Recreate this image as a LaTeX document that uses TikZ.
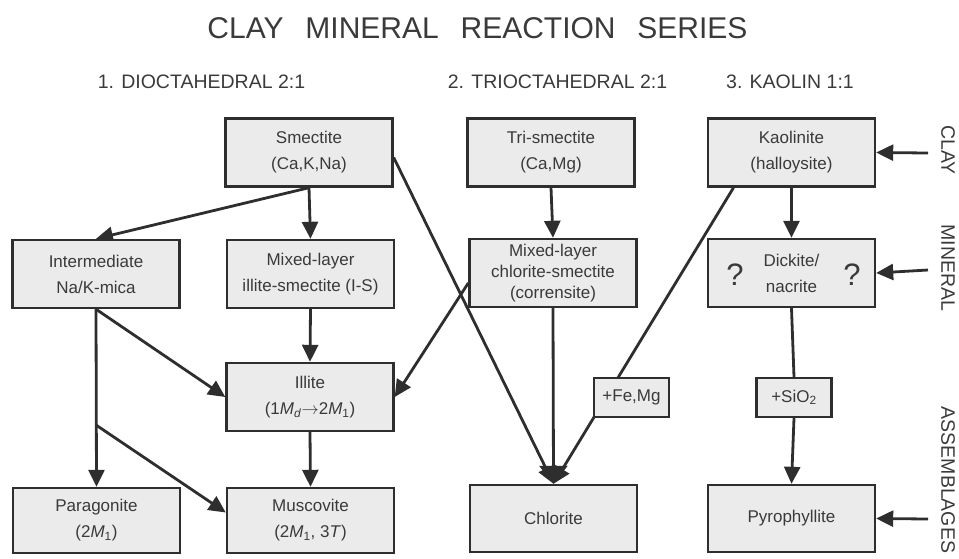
\documentclass[tikz,border=0pt]{standalone}
\usepackage{fontspec}
\setmainfont{Liberation Sans}
\usetikzlibrary{arrows.meta,backgrounds}
\definecolor{ink}{HTML}{2E2E2E}
\definecolor{txt}{HTML}{3A3A3A}
\definecolor{boxfill}{HTML}{EBEBEB}
\begin{document}
\begin{tikzpicture}[x=1pt,y=-1pt,
  box/.style={draw=ink,fill=boxfill,line width=2.4pt,minimum width=167pt,minimum height=68pt,
    inner sep=0pt,align=center,text=txt,font=\fontsize{17}{26}\selectfont},
  smallbox/.style={box,minimum width=75pt,minimum height=39pt},
  conn/.style={draw=ink,line width=2.8pt},
  arr/.style={conn,-{Triangle[length=17pt,width=16pt]}},
  bigarr/.style={conn,-{Triangle[length=18pt,width=28pt]}},
  hdr/.style={text=txt,font=\fontsize{19.5}{22}\selectfont,anchor=base,inner sep=0pt},
  side/.style={text=txt,font=\fontsize{19.5}{22}\selectfont,rotate=-90,inner sep=0pt},
  qmark/.style={text=txt,font=\fontsize{31}{33}\selectfont,inner sep=0pt}]
\useasboundingbox (0,0) rectangle (959,558);

% title and headers
\node[hdr,font=\fontsize{30}{34}\selectfont] (title) at (477.5,38) {CLAY\hspace{0.45em} MINERAL\hspace{0.45em} REACTION\hspace{0.45em} SERIES};
\node[hdr] (h1) at (201.5,88) {1. DIOCTAHEDRAL 2:1};
\node[hdr] (h2) at (557.5,88) {2. TRIOCTAHEDRAL 2:1};
\node[hdr] (h3) at (790,88) {3. KAOLIN 1:1};

% boxes
\node[box] (smec) at (309,152.5) {Smectite\\(Ca,K,Na)};
\node[box] (inter) at (96,274) {Intermediate\\Na/K-mica};
\node[box] (mixis) at (310.5,274) {Mixed-layer\\illite-smectite (I-S)};
\node[box] (illite) at (310,397) {Illite\\(1\textit{M}\textsubscript{\textit{d}}$\rightarrow$2\textit{M}\textsubscript{1})};
\node[box,minimum height=65pt] (parag) at (96.5,520.5) {Paragonite\\(2\textit{M}\textsubscript{1})};
\node[box,minimum height=65pt] (musc) at (310.5,520.5) {Muscovite\\(2\textit{M}\textsubscript{1}, 3\textit{T})};
\node[box] (trism) at (551,152.5) {Tri-smectite\\(Ca,Mg)};
\node[box,font=\fontsize{17}{21}\selectfont] (mixcs) at (553,273) {Mixed-layer\\chlorite-smectite\\(corrensite)};
\node[box,minimum height=67pt] (chlor) at (553.5,518.5) {Chlorite};
\node[box] (kaol) at (791.5,152.5) {Kaolinite\\(halloysite)};
\node[box] (dick) at (791.5,273) {Dickite/\\nacrite};
\node[box,minimum height=67pt] (pyro) at (791.5,518.5) {Pyrophyllite};
\node[smallbox] (fe) at (631.5,397.5) {+Fe,Mg};
\node[smallbox] (sio) at (794,397.5) {+SiO\textsubscript{2}};

% question marks
\node[qmark] (q1) at (735,275) {?};
\node[qmark] (q2) at (852,275) {?};

% side labels
\node[side] (lclay) at (948,150) {CLAY};
\node[side] (lmin) at (948,268) {MINERAL};
\node[side] (lass) at (948,480) {ASSEMBLAGES};
\coordinate (s1) at (928,153);
\coordinate (s2) at (928,270);
\coordinate (s3) at (928,519);
\coordinate (br) at (96,425);

\begin{scope}[on background layer]
\draw[arr] (smec.south) -- (mixis.north);
\draw[arr] (smec.south) -- (inter.north);
\draw[arr] ([yshift=-5pt]smec.east) -- (chlor.north);
\draw[arr] (mixis.south) -- (illite.north);
\draw[arr] (inter.south) -- (parag.north);
\draw[arr] (inter.south) -- (illite.west);
\draw[arr] (br) -- ([yshift=8pt]musc.west);
\draw[arr] (illite.south) -- (musc.north);
\draw[arr] ([yshift=-10pt]mixcs.west) -- (illite.east);
\draw[arr] (trism.south) -- (mixcs.north);
\draw[bigarr] (mixcs.south) -- (chlor.north);
\draw[arr] ([xshift=-58pt]kaol.south) -- (chlor.north);
\draw[arr] (kaol.south) -- (dick.north);
\draw[conn] (dick.south) -- (sio.north);
\draw[arr] (sio.south) -- (pyro.north);
\draw[arr] (s1) -- (kaol.east);
\draw[arr] (s2) -- (dick.east);
\draw[arr] (s3) -- (pyro.east);
\end{scope}
\end{tikzpicture}
\end{document}
